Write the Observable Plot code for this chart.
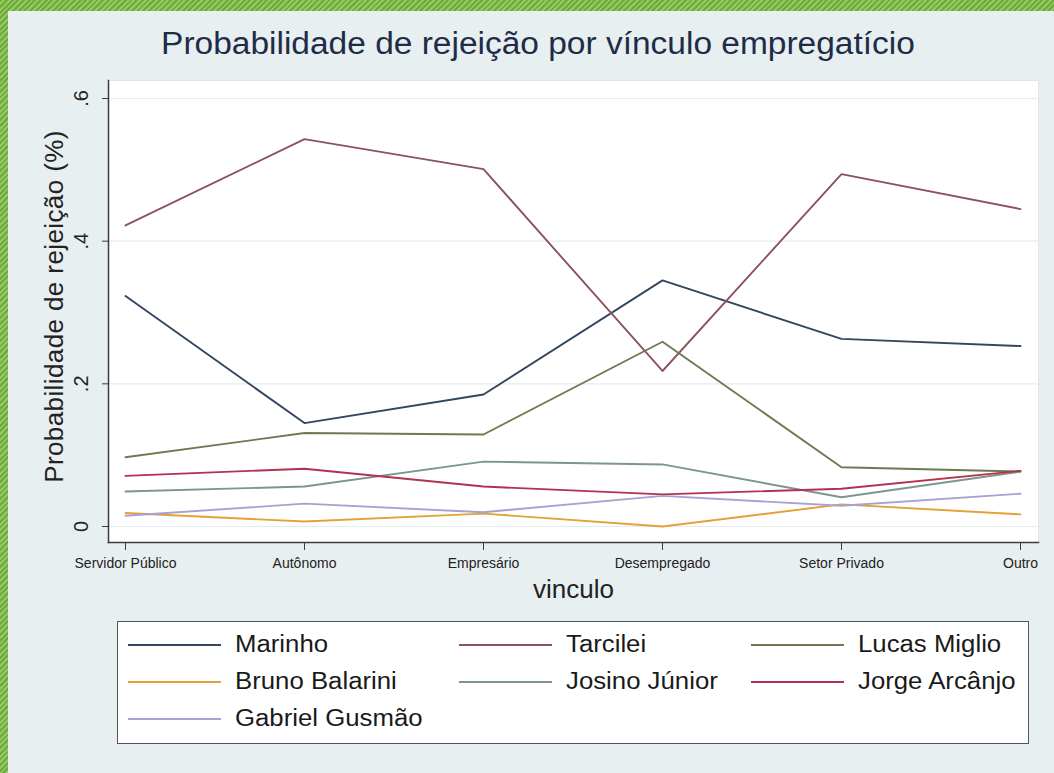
<!DOCTYPE html>
<html>
<head>
<meta charset="utf-8">
<script src="https://cdn.jsdelivr.net/npm/d3@7"></script>
<script src="https://cdn.jsdelivr.net/npm/@observablehq/plot@0.6"></script>
<style>
  html, body { margin: 0; padding: 0; }
  body { width: 1054px; height: 773px; overflow: hidden; font-family: "Liberation Sans", Arial, sans-serif; }
  #outer { position: absolute; left: 0; top: 0; width: 1054px; height: 773px;
    background: repeating-linear-gradient(135deg, #6fab3c 0px, #6fab3c 2px, #93c961 2px, #93c961 4px); }
  #inner { position: absolute; left: 8px; top: 11px; right: 0; bottom: 0; background: #e8eff1; }
  #chart { position: absolute; left: 0; top: 0; }
  #title { position: absolute; left: 0; width: 1076px; top: 26px; text-align: center;
    font-size: 31px; color: #1e2c48; white-space: nowrap; }
  #title span { display: inline-block; transform: scaleX(1.08); }
  #legend { position: absolute; left: 117px; top: 621px;
    border: 1.5px solid #505458; background: #fff;
    display: grid; grid-template-columns: 331px 292px 1fr; grid-auto-rows: 37px;
    padding: 4px 0 0 10px; box-sizing: border-box; width: 912px; height: 123px; }
  .item { display: flex; align-items: center; font-size: 23px; color: #1a1a1a; white-space: nowrap; }
  .swatch { width: 93px; height: 0; border-top: 2px solid; margin-right: 14px; }
  .item span.t { display: inline-block; transform: scaleX(1.12); transform-origin: left center; }
  .ytitle text { letter-spacing: 0.4px; }
</style>
</head>
<body>
<div id="outer"><div id="inner"></div></div>
<div id="chart"></div>
<div id="title"><span>Probabilidade de rejeição por vínculo empregatício</span></div>
<div id="legend"></div>
<script>
// ---- data ----
const vinculos = ["Servidor Público", "Autônomo", "Empresário", "Desempregado", "Setor Privado", "Outro"];
const candidatos = ["Marinho", "Tarcilei", "Lucas Miglio", "Bruno Balarini", "Josino Júnior", "Jorge Arcânjo", "Gabriel Gusmão"];
const marinho       = [0.323, 0.145, 0.185, 0.345, 0.263, 0.253];
const tarcilei      = [0.422, 0.543, 0.501, 0.218, 0.494, 0.445];
const lucasMiglio   = [0.097, 0.131, 0.129, 0.259, 0.083, 0.077];
const brunoBalarini = [0.019, 0.007, 0.018, 0.000, 0.031, 0.017];
const josinoJunior  = [0.049, 0.056, 0.091, 0.087, 0.041, 0.077];
const jorgeArcanjo  = [0.071, 0.081, 0.056, 0.045, 0.053, 0.078];
const gabrielGusmao = [0.015, 0.032, 0.020, 0.043, 0.029, 0.046];
const colors = ["#34465e", "#8c5262", "#6c7b50", "#e2a238", "#7c968e", "#b3324f", "#a7a1d4"];
const yTicks = [0, 0.2, 0.4, 0.6];
const yTickLabels = ["0", ".2", ".4", ".6"];
const titleText = "Probabilidade de rejeição por vínculo empregatício";
const yTitle = "Probabilidade de rejeição (%)";
const xTitle = "vinculo";

const series = [marinho, tarcilei, lucasMiglio, brunoBalarini, josinoJunior, jorgeArcanjo, gabrielGusmao];
const data = [];
candidatos.forEach((c, i) => vinculos.forEach((v, j) => data.push({candidato: c, vinculo: v, p: series[i][j]})));

const plot = Plot.plot({
  width: 1054,
  height: 773,
  marginLeft: 108,
  marginRight: 16,
  marginTop: 80,
  marginBottom: 231,
  style: {background: "transparent", fontFamily: "Liberation Sans, Arial, sans-serif", color: "#222"},
  x: {type: "point", domain: vinculos, padding: 0, insetLeft: 15, insetRight: 16, label: null},
  y: {domain: [0, 0.6], insetTop: 18, insetBottom: 16, label: null},
  color: {domain: candidatos, range: colors},
  marks: [
    Plot.frame({fill: "white", stroke: "#dfe7ea"}),
    Plot.gridY(yTicks, {stroke: "#e3ecef", strokeOpacity: 1, strokeWidth: 1.2}),
    Plot.lineY(data, {x: "vinculo", y: "p", z: "candidato", stroke: "candidato", strokeWidth: 1.9}),
    Plot.frame({anchor: "left", stroke: "#3a3d40", strokeWidth: 1.5}),
    Plot.frame({anchor: "bottom", stroke: "#3a3d40", strokeWidth: 1.5}),
    Plot.axisY(yTicks, {tickSize: 6, tickFormat: () => "", stroke: "#3a3d40", label: null}),
    Plot.text(yTicks, {y: d => d, text: (d, i) => yTickLabels[i], frameAnchor: "left", textAnchor: "middle",
      dx: -27, rotate: -90, fontSize: 20, fill: "#222"}),
    Plot.text([yTitle], {text: d => d, frameAnchor: "left", textAnchor: "middle", dx: -54, dy: -5,
      rotate: -90, fontSize: 26, fill: "#222", className: "ytitle"}),
    Plot.axisX({tickSize: 8, tickPadding: 8, fontSize: 14, stroke: "#3a3d40", fill: "#222", label: null}),
    Plot.text([xTitle], {text: d => d, frameAnchor: "bottom", dy: 55, fontSize: 26, fill: "#222"})
  ]
});
document.getElementById("chart").appendChild(plot);

// ---- legend ----
const legend = document.getElementById("legend");
candidatos.forEach((c, i) => {
  const item = document.createElement("div");
  item.className = "item";
  const sw = document.createElement("div");
  sw.className = "swatch";
  sw.style.borderTopColor = colors[i];
  const t = document.createElement("span");
  t.className = "t";
  t.textContent = c;
  item.appendChild(sw);
  item.appendChild(t);
  legend.appendChild(item);
});
</script>
</body>
</html>
